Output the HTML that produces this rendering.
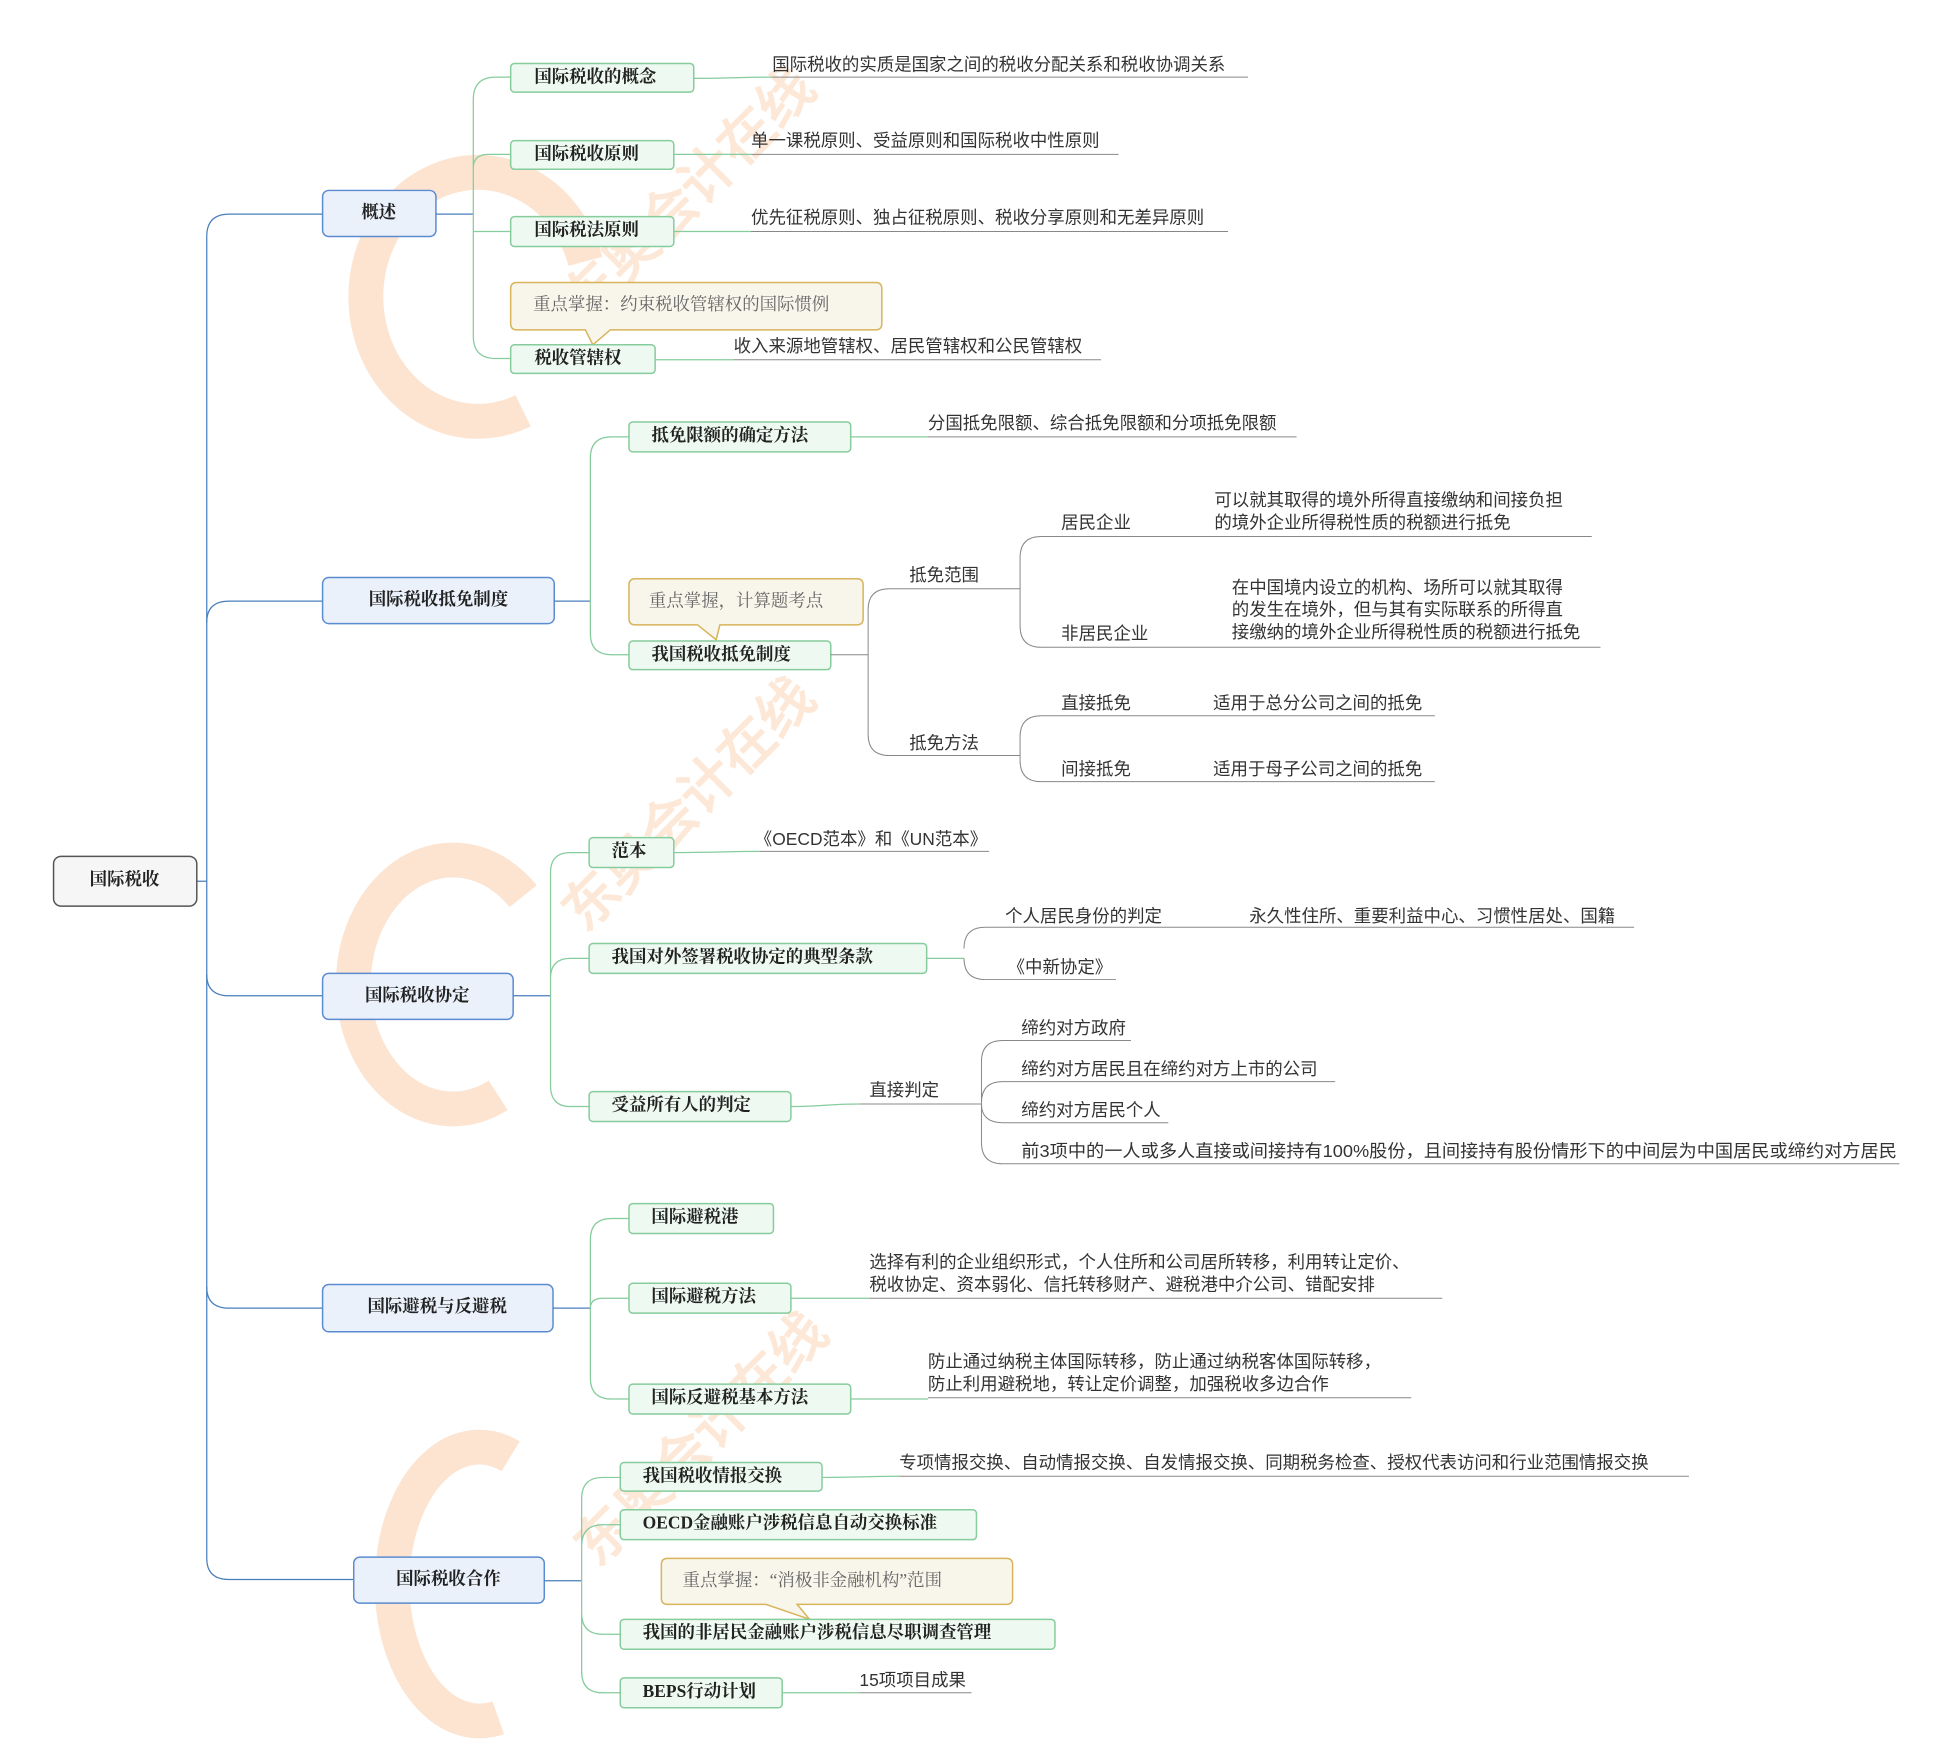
<!DOCTYPE html>
<html><head><meta charset="utf-8"><style>
html,body{margin:0;padding:0;background:#fff;}
svg{display:block;}
.n{font-family:"Liberation Serif","Noto Serif CJK SC",serif;font-weight:bold;font-size:14px;fill:#222;}
.t{font-family:"Liberation Sans","Noto Sans CJK SC",sans-serif;font-size:14px;fill:#333;}
.c{font-family:"Liberation Serif","Noto Serif CJK SC",serif;font-size:14px;fill:#666;}
.g{fill:#eef9f1;stroke:#86cc9c;stroke-width:1.2;}
.b{fill:#eaf1fb;stroke:#5b8bd0;stroke-width:1.2;}
.y{fill:#f8f5ea;stroke:#d8b45a;stroke-width:1.2;}
.gl{fill:none;stroke:#86cc9c;stroke-width:1;}
.bl{fill:none;stroke:#4a7ebb;stroke-width:1;}
.ul{fill:none;stroke:#888;stroke-width:0.8;}
</style></head><body>
<svg width="1943" height="1755" viewBox="0 0 1560 1410" preserveAspectRatio="none" xmlns="http://www.w3.org/2000/svg">
<!-- watermark -->
<g fill="none" stroke="#f7b27a" opacity="0.35" stroke-width="28">
<path d="M470 210 A90 100 0 1 0 420 330"/>
<path d="M420 720 A80 100 0 1 0 400 880"/>
<path d="M410 1170 A70 110 0 1 0 400 1380"/>
</g>
<g fill="#f7b27a" opacity="0.3" font-family="Liberation Sans, sans-serif" font-weight="bold">
<text x="470" y="260" font-size="44" transform="rotate(-45 470 260)">东奥会计在线</text>
<text x="470" y="750" font-size="44" transform="rotate(-45 470 750)">东奥会计在线</text>
<text x="480" y="1260" font-size="44" transform="rotate(-45 480 1260)">东奥会计在线</text>
</g>

<!-- root trunk -->
<path class="bl" d="M158 708 H166"/>
<path class="bl" d="M166 190 Q166 172 184 172 H259"/>
<path class="bl" d="M166 190 V1252 Q166 1269 184 1269 H284"/>
<path class="bl" d="M166 500 Q166 483 184 483 H259"/>
<path class="bl" d="M166 783 Q166 800 184 800 H259"/>
<path class="bl" d="M166 1034 Q166 1051 184 1051 H259"/>

<rect x="43" y="688" width="115" height="40" rx="6" fill="#f6f6f6" stroke="#555" stroke-width="1.2"/>
<text class="n" x="100" y="708" text-anchor="middle" dominant-baseline="middle">国际税收</text>

<!-- L1 boxes -->
<rect class="b" x="259" y="153" width="91" height="37" rx="5"/><text class="n" x="304" y="172" text-anchor="middle" dominant-baseline="middle">概述</text>
<rect class="b" x="259" y="464" width="186" height="37" rx="5"/><text class="n" x="352" y="483" text-anchor="middle" dominant-baseline="middle">国际税收抵免制度</text>
<rect class="b" x="259" y="782" width="153" height="37" rx="5"/><text class="n" x="335" y="801" text-anchor="middle" dominant-baseline="middle">国际税收协定</text>
<rect class="b" x="259" y="1032" width="185" height="38" rx="5"/><text class="n" x="351" y="1051" text-anchor="middle" dominant-baseline="middle">国际避税与反避税</text>
<rect class="b" x="284" y="1251" width="153" height="37" rx="5"/><text class="n" x="360" y="1270" text-anchor="middle" dominant-baseline="middle">国际税收合作</text>

<!-- 概述 -->
<path class="bl" d="M350 172 H380"/>
<path class="gl" d="M380 80 Q380 62 398 62 H410 M380 80 V270 Q380 288 398 288 H410 M380 135 Q380 124 392 124 H410 M380 172 V186 H410"/>
<rect class="g" x="410" y="51" width="147" height="23" rx="3"/><text class="n" x="429" y="63" dominant-baseline="middle">国际税收的概念</text>
<path class="gl" d="M557 63 C590 63 590 62 620 62"/><path class="ul" d="M620 62 H1002"/><text class="t" x="620" y="53" dominant-baseline="middle">国际税收的实质是国家之间的税收分配关系和税收协调关系</text>
<rect class="g" x="410" y="113" width="131" height="23" rx="3"/><text class="n" x="429" y="125" dominant-baseline="middle">国际税收原则</text>
<path class="gl" d="M541 124 C570 124 580 124 603 124"/><path class="ul" d="M603 124 H898"/><text class="t" x="603" y="114" dominant-baseline="middle">单一课税原则、受益原则和国际税收中性原则</text>
<rect class="g" x="410" y="174" width="131" height="24" rx="3"/><text class="n" x="429" y="186" dominant-baseline="middle">国际税法原则</text>
<path class="gl" d="M541 186 C570 186 580 186 603 186"/><path class="ul" d="M603 186 H986"/><text class="t" x="603" y="176" dominant-baseline="middle">优先征税原则、独占征税原则、税收分享原则和无差异原则</text>
<path class="y" d="M415 227 H703 Q708 227 708 232 V260 Q708 265 703 265 H490 L476 277 L470 265 H415 Q410 265 410 260 V232 Q410 227 415 227 Z"/>
<text class="c" x="428" y="246" dominant-baseline="middle">重点掌握：约束税收管辖权的国际惯例</text>
<rect class="g" x="410" y="277" width="116" height="23" rx="3"/><text class="n" x="429" y="289" dominant-baseline="middle">税收管辖权</text>
<path class="gl" d="M526 289 C560 289 565 289 589 289"/><path class="ul" d="M589 289 H884"/><text class="t" x="589" y="279" dominant-baseline="middle">收入来源地管辖权、居民管辖权和公民管辖权</text>

<!-- 抵免 -->
<path class="bl" d="M445 483 H474"/>
<path class="gl" d="M474 368 Q474 351 491 351 H505 M474 368 V509 Q474 526 491 526 H505"/>
<rect class="g" x="505" y="339" width="178" height="24" rx="3"/><text class="n" x="523" y="351" dominant-baseline="middle">抵免限额的确定方法</text>
<path class="gl" d="M683 351 C715 351 720 351 745 351"/><path class="ul" d="M745 351 H1041"/><text class="t" x="745" y="341" dominant-baseline="middle">分国抵免限额、综合抵免限额和分项抵免限额</text>
<path class="y" d="M510 465 H688 Q693 465 693 470 V497 Q693 502 688 502 H578 L575 514 L560 502 H510 Q505 502 505 497 V470 Q505 465 510 465 Z"/>
<text class="c" x="521" y="484" dominant-baseline="middle">重点掌握，计算题考点</text>
<rect class="g" x="505" y="515" width="162" height="23" rx="3"/><text class="n" x="523" y="527" dominant-baseline="middle">我国税收抵免制度</text>
<path class="ul" d="M667 526 H697 M697 490 Q697 473 714 473 H819 M697 490 V590 Q697 607 714 607 H819"/>
<text class="t" x="730" y="463" dominant-baseline="middle">抵免范围</text>
<text class="t" x="730" y="598" dominant-baseline="middle">抵免方法</text>
<path class="ul" d="M819 448 Q819 431 836 431 H1278 M819 448 V503 Q819 520 836 520 H1285"/>
<text class="t" x="852" y="421" dominant-baseline="middle">居民企业</text>
<text class="t" x="975" y="403" dominant-baseline="middle">可以就其取得的境外所得直接缴纳和间接负担</text>
<text class="t" x="975" y="421" dominant-baseline="middle">的境外企业所得税性质的税额进行抵免</text>
<text class="t" x="852" y="510" dominant-baseline="middle">非居民企业</text>
<text class="t" x="989" y="473" dominant-baseline="middle">在中国境内设立的机构、场所可以就其取得</text>
<text class="t" x="989" y="491" dominant-baseline="middle">的发生在境外，但与其有实际联系的所得直</text>
<text class="t" x="989" y="509" dominant-baseline="middle">接缴纳的境外企业所得税性质的税额进行抵免</text>
<path class="ul" d="M819 592 Q819 575 836 575 H1152 M819 592 V611 Q819 628 836 628 H1152"/>
<text class="t" x="852" y="566" dominant-baseline="middle">直接抵免</text><text class="t" x="974" y="566" dominant-baseline="middle">适用于总分公司之间的抵免</text>
<text class="t" x="852" y="619" dominant-baseline="middle">间接抵免</text><text class="t" x="974" y="619" dominant-baseline="middle">适用于母子公司之间的抵免</text>

<!-- 协定 -->
<path class="bl" d="M412 800 H442"/>
<path class="gl" d="M442 701 Q442 685 458 685 H473 M442 701 V872 Q442 889 458 889 H473 M442 786 Q442 770 458 770 H473"/>
<rect class="g" x="473" y="673" width="68" height="24" rx="3"/><text class="n" x="491" y="685" dominant-baseline="middle">范本</text>
<path class="gl" d="M541 685 C575 685 585 684 610 684"/><path class="ul" d="M610 684 H794"/><text class="t" x="606" y="675" dominant-baseline="middle">《OECD范本》和《UN范本》</text>
<rect class="g" x="473" y="758" width="271" height="24" rx="3"/><text class="n" x="491" y="770" dominant-baseline="middle">我国对外签署税收协定的典型条款</text>
<path class="gl" d="M744 770 H774"/>
<path class="ul" d="M774 762 Q774 745 791 745 H1312 M774 770 Q774 787 791 787 H896"/>
<text class="t" x="807" y="737" dominant-baseline="middle">个人居民身份的判定</text><text class="t" x="1003" y="737" dominant-baseline="middle">永久性住所、重要利益中心、习惯性居处、国籍</text>
<text class="t" x="809" y="778" dominant-baseline="middle">《中新协定》</text>
<rect class="g" x="473" y="877" width="162" height="24" rx="3"/><text class="n" x="491" y="889" dominant-baseline="middle">受益所有人的判定</text>
<path class="gl" d="M635 889 C660 889 665 887 690 887"/><path class="ul" d="M690 887 H788"/>
<text class="t" x="698" y="877" dominant-baseline="middle">直接判定</text>
<path class="ul" d="M788 853 Q788 836 805 836 H908 M788 853 V918 Q788 935 805 935 H1525 M788 886 Q788 869 805 869 H1072 M788 887 Q788 902 805 902 H938"/>
<text class="t" x="820" y="827" dominant-baseline="middle">缔约对方政府</text>
<text class="t" x="820" y="860" dominant-baseline="middle">缔约对方居民且在缔约对方上市的公司</text>
<text class="t" x="820" y="893" dominant-baseline="middle">缔约对方居民个人</text>
<text class="t" x="820" y="926" dominant-baseline="middle" textLength="703" lengthAdjust="spacingAndGlyphs">前3项中的一人或多人直接或间接持有100%股份，且间接持有股份情形下的中间层为中国居民或缔约对方居民</text>

<!-- 避税 -->
<path class="bl" d="M444 1051 H474"/>
<path class="gl" d="M474 996 Q474 979 491 979 H505 M474 996 V1107 Q474 1124 491 1124 H505 M474 1051 Q474 1043 484 1043 H505"/>
<rect class="g" x="505" y="967" width="116" height="24" rx="3"/><text class="n" x="523" y="979" dominant-baseline="middle">国际避税港</text>
<rect class="g" x="505" y="1031" width="130" height="24" rx="3"/><text class="n" x="523" y="1043" dominant-baseline="middle">国际避税方法</text>
<path class="gl" d="M635 1043 H698"/><path class="ul" d="M698 1043 H1158"/>
<text class="t" x="698" y="1015" dominant-baseline="middle">选择有利的企业组织形式，个人住所和公司居所转移，利用转让定价、</text>
<text class="t" x="698" y="1033" dominant-baseline="middle">税收协定、资本弱化、信托转移财产、避税港中介公司、错配安排</text>
<rect class="g" x="505" y="1112" width="178" height="24" rx="3"/><text class="n" x="523" y="1124" dominant-baseline="middle">国际反避税基本方法</text>
<path class="gl" d="M683 1124 H745"/><path class="ul" d="M745 1123 H1133"/>
<text class="t" x="745" y="1095" dominant-baseline="middle">防止通过纳税主体国际转移，防止通过纳税客体国际转移，</text>
<text class="t" x="745" y="1113" dominant-baseline="middle">防止利用避税地，转让定价调整，加强税收多边合作</text>

<!-- 合作 -->
<path class="bl" d="M437 1270 H467"/>
<path class="gl" d="M467 1204 Q467 1187 484 1187 H498 M467 1204 V1343 Q467 1360 484 1360 H498 M467 1242 Q467 1225 484 1225 H498 M467 1296 Q467 1313 484 1313 H498"/>
<rect class="g" x="498" y="1175" width="162" height="23" rx="3"/><text class="n" x="516" y="1187" dominant-baseline="middle">我国税收情报交换</text>
<path class="gl" d="M660 1187 C690 1187 700 1186 722 1186"/><path class="ul" d="M722 1186 H1356"/>
<text class="t" x="722" y="1176" dominant-baseline="middle">专项情报交换、自动情报交换、自发情报交换、同期税务检查、授权代表访问和行业范围情报交换</text>
<rect class="g" x="498" y="1213" width="286" height="24" rx="3"/><text class="n" x="516" y="1225" dominant-baseline="middle">OECD金融账户涉税信息自动交换标准</text>
<path class="y" d="M536 1252 H808 Q813 1252 813 1257 V1284 Q813 1289 808 1289 H640 L650 1301 L615 1289 H536 Q531 1289 531 1284 V1257 Q531 1252 536 1252 Z"/>
<text class="c" x="548" y="1271" dominant-baseline="middle">重点掌握：“消极非金融机构”范围</text>
<rect class="g" x="498" y="1301" width="349" height="24" rx="3"/><text class="n" x="516" y="1313" dominant-baseline="middle">我国的非居民金融账户涉税信息尽职调查管理</text>
<rect class="g" x="498" y="1348" width="130" height="24" rx="3"/><text class="n" x="516" y="1360" dominant-baseline="middle">BEPS行动计划</text>
<path class="gl" d="M628 1360 H690"/><path class="ul" d="M690 1360 H780"/>
<text class="t" x="690" y="1351" dominant-baseline="middle">15项项目成果</text>
</svg>
</body></html>
